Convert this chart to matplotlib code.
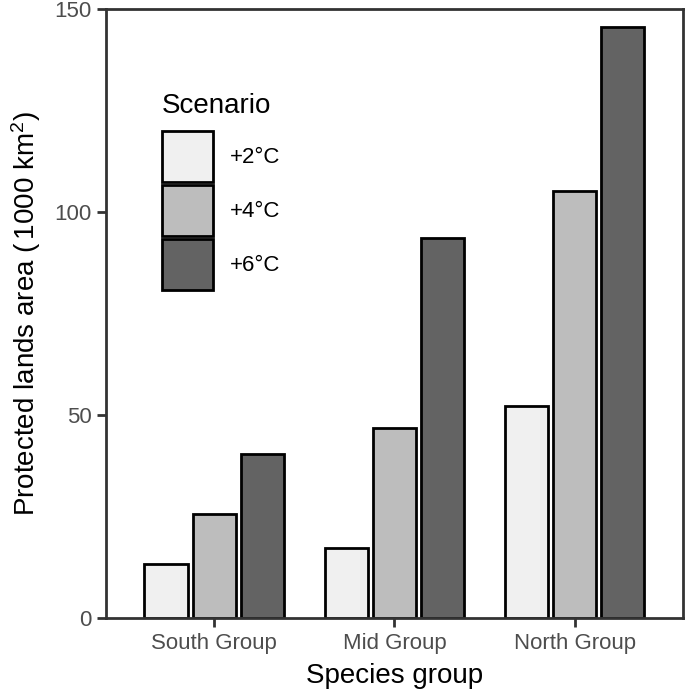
import matplotlib.pyplot as plt
import numpy as np

plt.rcParams['font.family'] = ['Liberation Sans', 'DejaVu Sans']
plt.rcParams['mathtext.fontset'] = 'custom'
plt.rcParams['mathtext.rm'] = 'Liberation Sans'
plt.rcParams['mathtext.it'] = 'Liberation Sans:italic'

# data
groups = ["South Group", "Mid Group", "North Group"]
scenarios = ["+2°C", "+4°C", "+6°C"]
area_2c = [13.3, 17.2, 52.2]
area_4c = [25.6, 46.8, 105.2]
area_6c = [40.4, 93.6, 145.6]
fills = ["#F0F0F0", "#BDBDBD", "#636363"]

fig = plt.figure(figsize=(6.85, 6.92), dpi=100)
ax = fig.add_axes([0.1547, 0.107, 0.8423, 0.880])

x = np.arange(1, len(groups) + 1)
slot = 0.8 / 3
bars = []
for i, vals in enumerate([area_2c, area_4c, area_6c]):
    b = ax.bar(x + (i - 1) * slot, vals, width=0.24, color=fills[i],
               edgecolor="black", linewidth=2.0, label=scenarios[i], zorder=2)
    bars.append(b)

ax.set_xlim(0.4, 3.6)
ax.set_ylim(0, 150)
ax.set_xticks(x)
ax.set_xticklabels(groups)
ax.set_yticks([0, 50, 100, 150])

axis_col = "#333333"
for s in ax.spines.values():
    s.set_color(axis_col)
    s.set_linewidth(2.0)
    s.set_zorder(3)
ax.tick_params(axis="both", colors=axis_col, length=6.5, width=2.0,
               labelsize=16, labelcolor="#4d4d4d", pad=4)

ax.set_xlabel("Species group", fontsize=20, labelpad=7)
ax.set_ylabel("Protected lands area ($\\,$1000 km$^2$)", fontsize=20, labelpad=8)

leg = fig.legend(handles=bars, labels=scenarios, loc="upper left",
                 bbox_to_anchor=(162 / 685, 1 - 131 / 692),
                 frameon=False, fontsize=16,
                 handlelength=2.3, handleheight=3.15, labelspacing=0.14,
                 handletextpad=0.75, borderpad=0, borderaxespad=0)
fig.text(162 / 685, 1 - 113 / 692, "Scenario", fontsize=20, va="baseline")

fig.savefig("out.png", dpi=100)
